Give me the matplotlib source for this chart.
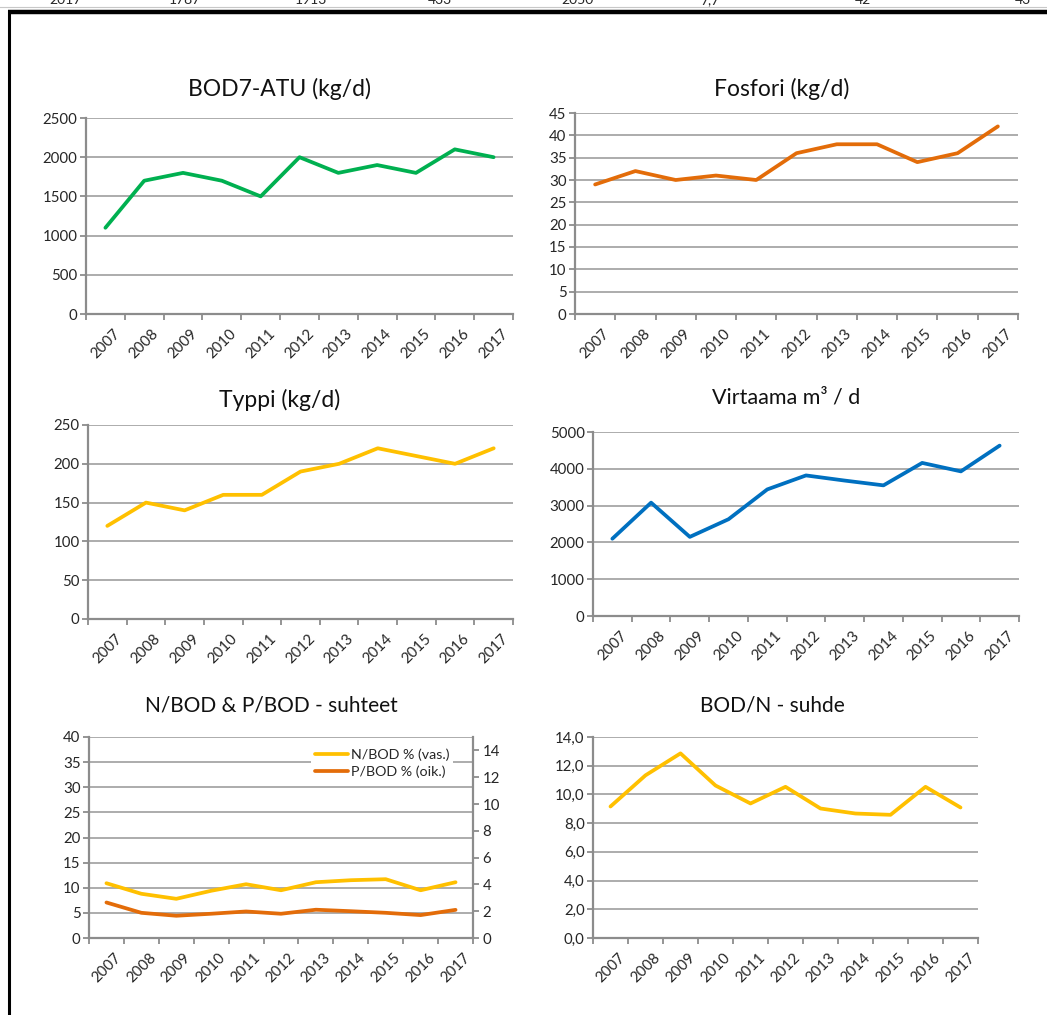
import numpy as np
import matplotlib
matplotlib.use("Agg")
import matplotlib.pyplot as plt
from matplotlib.lines import Line2D
from matplotlib.ticker import FuncFormatter

plt.rcParams['font.family'] = ['Lato', 'DejaVu Sans']

years = ['2007', '2008', '2009', '2010', '2011', '2012', '2013', '2014', '2015', '2016', '2017']
bod = [1100, 1700, 1800, 1700, 1500, 2000, 1800, 1900, 1800, 2100, 2000]
fosfori = [29, 32, 30, 31, 30, 36, 38, 38, 34, 36, 42]
typpi = [120, 150, 140, 160, 160, 190, 200, 220, 210, 200, 220]
virtaama = [2100, 3080, 2150, 2630, 3440, 3820, 3680, 3550, 4160, 3930, 4630]
n_bod = [10.9, 8.8, 7.8, 9.4, 10.7, 9.5, 11.1, 11.5, 11.7, 9.5, 11.1]
p_bod = [2.65, 1.88, 1.66, 1.81, 1.98, 1.81, 2.11, 2.0, 1.88, 1.71, 2.1]
bod_n = [9.16, 11.33, 12.86, 10.62, 9.37, 10.53, 9.02, 8.67, 8.58, 10.53, 9.09]
top_row = ['2017', '1787', '1913', '433', '2050', '7,7', '42', '43']

W, H = 1047, 1015
fig = plt.figure(figsize=(W / 100, H / 100), dpi=100)

AX_GREY = '#8c8c8c'
GRID = '#a6a6a6'
TXT = '#262626'
TICK_FS = 10.8
x = np.arange(len(years))


def rect(l, r, t, b):
    return [l / W, 1 - b / H, (r - l) / W, (b - t) / H]


def style(ax, ylim, yticks, fmt=None):
    ax.set_xlim(-0.5, len(years) - 0.5)
    ax.set_ylim(*ylim)
    ax.set_yticks(yticks)
    if fmt:
        ax.yaxis.set_major_formatter(FuncFormatter(fmt))
    ax.grid(axis='y', color=GRID, lw=1.3)
    ax.set_axisbelow(True)
    for s in ['top', 'right']:
        ax.spines[s].set_visible(False)
    for s in ['left', 'bottom']:
        ax.spines[s].set_color(AX_GREY)
        ax.spines[s].set_linewidth(1.6)
    ax.set_xticks(x)
    ax.set_xticklabels(years, rotation=45, ha='center', va='top')
    ax.tick_params(axis='x', which='major', length=0, pad=9, labelsize=TICK_FS, labelcolor=TXT)
    ax.set_xticks(np.arange(-0.5, len(years), 1), minor=True)
    ax.tick_params(axis='x', which='minor', length=4, width=1.3, color=AX_GREY)
    ax.tick_params(axis='y', length=4, width=1.3, color=AX_GREY, pad=2,
                   labelsize=TICK_FS, labelcolor=TXT)


def title(xc, yc, s, size):
    fig.text(xc / W, 1 - yc / H, s, ha='center', va='center', fontsize=size, color='#111111')


LW = 2.7

# Panel 1
ax1 = fig.add_axes(rect(86, 513, 118, 314))
ax1.plot(x, bod, color='#00B050', lw=LW, solid_capstyle='round')
style(ax1, (0, 2500), np.arange(0, 2501, 500))
title(280, 89, 'BOD7-ATU (kg/d)', 16.5)

# Panel 2
ax2 = fig.add_axes(rect(575, 1018, 113, 314))
ax2.plot(x, fosfori, color='#E36C09', lw=LW, solid_capstyle='round')
style(ax2, (0, 45), np.arange(0, 46, 5))
title(782, 89, 'Fosfori (kg/d)', 16.5)

# Panel 3
ax3 = fig.add_axes(rect(88, 513, 425, 619))
ax3.plot(x, typpi, color='#FFC000', lw=LW, solid_capstyle='round')
style(ax3, (0, 250), np.arange(0, 251, 50))
title(280, 400, 'Typpi (kg/d)', 16.5)

# Panel 4
ax4 = fig.add_axes(rect(593, 1019, 432, 616))
ax4.plot(x, virtaama, color='#0070C0', lw=LW, solid_capstyle='round')
style(ax4, (0, 5000), np.arange(0, 5001, 1000))
title(786, 397, 'Virtaama m³ / d', 15.5)

# Panel 5
ax5 = fig.add_axes(rect(89, 473, 737, 938))
l1, = ax5.plot(x, n_bod, color='#FFC000', lw=LW, solid_capstyle='round', label='N/BOD % (vas.)')
style(ax5, (0, 40), np.arange(0, 41, 5))
ax5b = ax5.twinx()
l2, = ax5b.plot(x, p_bod, color='#E36C09', lw=LW, solid_capstyle='round', label='P/BOD % (oik.)')
ax5b.set_ylim(0, 15)
ax5b.set_yticks(np.arange(0, 15, 2))
for s in ['top', 'left', 'bottom']:
    ax5b.spines[s].set_visible(False)
ax5b.spines['right'].set_color(AX_GREY)
ax5b.spines['right'].set_linewidth(1.6)
ax5b.tick_params(axis='y', length=4, width=1.3, color=AX_GREY, pad=3,
                 labelsize=TICK_FS, labelcolor=TXT)
leg = ax5b.legend(handles=[l1, l2], loc='center', bbox_to_anchor=(0.763, 0.871),
                  frameon=True, fontsize=10.3, handlelength=2.3, handletextpad=0.2,
                  borderpad=0.3, labelspacing=0.3, fancybox=False)
leg.get_frame().set_facecolor('white')
leg.get_frame().set_edgecolor('none')
leg.get_frame().set_alpha(1)
for t in leg.get_texts():
    t.set_color(TXT)
title(271, 706, 'N/BOD & P/BOD - suhteet', 15)

# Panel 6
ax6 = fig.add_axes(rect(593, 978, 737, 938))
ax6.plot(x, bod_n, color='#FFC000', lw=LW, solid_capstyle='round')
style(ax6, (0, 14), np.arange(0, 14.1, 2), fmt=lambda v, p: f'{v:.1f}'.replace('.', ','))
title(772, 706, 'BOD/N - suhde', 15)

# Frame and cut-off table row on top
fig.add_artist(Line2D([0, 1], [1 - 6.5 / H, 1 - 6.5 / H], transform=fig.transFigure,
                      color='#c8c8c8', lw=0.8))
fig.add_artist(Line2D([7.5 / W, 1], [1 - 11.5 / H, 1 - 11.5 / H], transform=fig.transFigure,
                      color='black', lw=3.2, solid_capstyle='butt'))
fig.add_artist(Line2D([8.5 / W, 8.5 / W], [1 - 10 / H, 0], transform=fig.transFigure,
                      color='black', lw=2.2, solid_capstyle='butt'))
for xc, s in zip([65, 185, 311, 440, 577, 710, 863, 1023], top_row):
    fig.text(xc / W, 1 - 4 / H, s, ha='center', va='baseline', fontsize=10, color=TXT)

fig.savefig('out.png', dpi=100)
